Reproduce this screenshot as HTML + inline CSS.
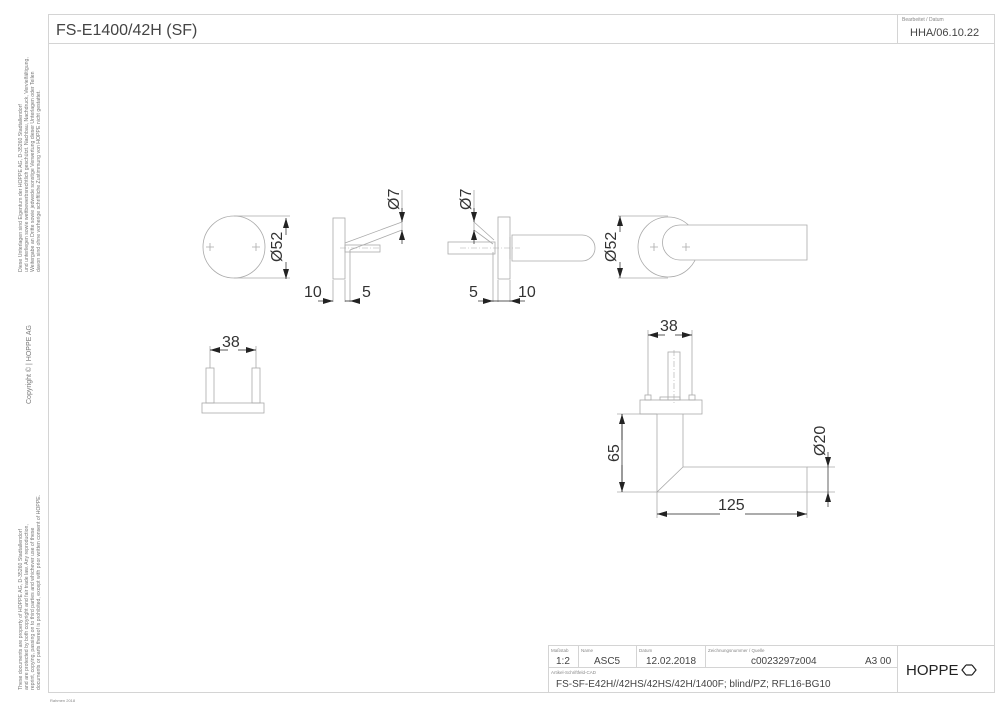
<!DOCTYPE html>
<html><head><meta charset="utf-8"><style>
body{margin:0;background:#fff;}
svg{display:block;font-family:"Liberation Sans",sans-serif;}
</style></head><body>
<svg width="1000" height="707" viewBox="0 0 1000 707" xmlns="http://www.w3.org/2000/svg">
<defs>
<marker id="a" viewBox="0 0 10 6" refX="10" refY="3" markerWidth="10" markerHeight="6" orient="auto-start-reverse" markerUnits="userSpaceOnUse"><path d="M0,0L10,3L0,6z" fill="#222"/></marker>
</defs>
<g fill="none" stroke="#d4d4d4" stroke-width="1">
<rect x="48.5" y="14.5" width="946" height="678"/>
<line x1="48" y1="43.5" x2="994" y2="43.5"/>
<line x1="897.5" y1="14" x2="897.5" y2="43"/>
<rect x="548.5" y="645.5" width="446" height="47"/>
<line x1="548" y1="667.5" x2="897" y2="667.5"/>
<line x1="897.5" y1="645" x2="897.5" y2="692"/>
<line x1="578.5" y1="645" x2="578.5" y2="667"/>
<line x1="636.5" y1="645" x2="636.5" y2="667"/>
<line x1="705.5" y1="645" x2="705.5" y2="667"/>
</g>
<g fill="#444">
<text x="56" y="35" font-size="16">FS-E1400/42H (SF)</text>
<text x="902" y="21" font-size="5" fill="#888">Bearbeitet / Datum</text>
<text x="910" y="36" font-size="11">HHA/06.10.22</text>
<text x="551" y="652" font-size="4.5" fill="#888">Maßstab</text>
<text x="581" y="652" font-size="4.5" fill="#888">Name</text>
<text x="639" y="652" font-size="4.5" fill="#888">Datum</text>
<text x="708" y="652" font-size="4.5" fill="#888">Zeichnungsnummer / Quelle</text>
<text x="556" y="664" font-size="10">1:2</text>
<text x="594" y="664" font-size="10">ASC5</text>
<text x="646" y="664" font-size="10">12.02.2018</text>
<text x="751" y="664" font-size="10">c0023297z004</text>
<text x="865" y="664" font-size="10">A3 00</text>
<text x="551" y="674" font-size="4.5" fill="#888">Artikel-Schriftfeld-CAD</text>
<text x="556" y="687" font-size="10">FS-SF-E42H//42HS/42HS/42H/1400F; blind/PZ; RFL16-BG10</text>
<text x="906" y="675" font-size="15" fill="#222">HOPPE</text>
<text x="50" y="702" font-size="4" fill="#888">Rahmen 2018</text>
</g>
<g fill="none" stroke="#222" stroke-width="1.2"><path d="M966,665l-4,5l4,5M972,665l4,5l-4,5M966,665h6M966,675h6"/></g>
<g font-size="5.2" fill="#777">
<text transform="translate(22,272) rotate(-90)">Diese Unterlagen sind Eigentum der  HOPPE AG, D-35260 Stadtallendorf</text>
<text transform="translate(28,272) rotate(-90)">und unterliegen  sowie wettbewerbsrechtlich geschützt. Nachbau, Nachdruck, Vervielfältigung,</text>
<text transform="translate(34,272) rotate(-90)">Weitergabe an Dritte sowie jedwede sonstige Verwertung dieser Unterlagen oder Teilen</text>
<text transform="translate(40,272) rotate(-90)">davon sind ohne vorherige schriftliche Zustimmung von HOPPE nicht gestattet.</text>
<text transform="translate(31,404) rotate(-90)" font-size="7">Copyright ©     |     HOPPE  AG</text>
<text transform="translate(22,690) rotate(-90)">These documents are property of HOPPE AG, D-35260 Stadtallendorf</text>
<text transform="translate(28,690) rotate(-90)">and are protected by both copyright and fair trade law. Any reproduction,</text>
<text transform="translate(34,690) rotate(-90)">reprint, copying, passing on to third parties and whichever use of these</text>
<text transform="translate(40,690) rotate(-90)">documents or parts thereof is prohibited, except with prior written consent of HOPPE.</text>
</g>
<g fill="none" stroke="#aaa" stroke-width="0.8">
<circle cx="234" cy="247" r="31"/>
<path d="M206,247h8M210,243v8M252,247h8M256,243v8"/>
<path d="M234,216h56M234,278h56"/>
<rect x="333" y="218" width="12" height="61"/>
<rect x="345" y="245" width="35" height="7"/>
<path d="M345,243L402,222M350,250L402,230M402,190v50"/>
<path d="M345,280v22M350,250v52M333,280v22"/>
<rect x="498" y="217" width="12" height="62"/>
<rect x="448" y="242" width="47" height="12"/>
<path d="M512,235h70a13,13 0 0 1 0,26h-70z"/>
<path d="M510,237v22"/>
<path d="M474,222L494,240M474,230L493,244M474,190v50"/>
<path d="M493,252v50M498,280v22M510,280v22"/>
<circle cx="668" cy="247" r="30"/>
<path d="M807,225h-127a17.5,17.5 0 0 0 0,35h127z" fill="#fff"/>
<path d="M650,247h8M654,243v8M682,247h8M686,243v8"/>
<path d="M668,216h-50M668,278h-50"/>
<rect x="202" y="403" width="62" height="10"/>
<rect x="206" y="368" width="8" height="35"/>
<rect x="252" y="368" width="8" height="35"/>
<path d="M210,346v22M256,346v22"/>
<rect x="668" y="352" width="12" height="48"/>
<rect x="640" y="400" width="62" height="14"/>
<rect x="645" y="395" width="6" height="5"/><rect x="689" y="395" width="6" height="5"/>
<rect x="660" y="397" width="20" height="3"/>
<path d="M657,414v78L683,467h124v25H657M683,414v53"/>
<path d="M648,330v65M692,330v65"/>
<path d="M657,492h-40M657,414h-40M807,492h28M807,467h28M657,492v26M807,492v26"/>
</g>
<g stroke="#aaa" stroke-width="0.6" stroke-dasharray="6,2,1,2" fill="none">
<path d="M340,248h40M460,248h60M674,350v54"/>
</g>
<g stroke="#222" stroke-width="0.7" fill="none" marker-end="url(#a)">
<path d="M286,235V218"/><path d="M286,262V279"/>
<path d="M402,208v14"/><path d="M402,244v-14"/>
<path d="M474,208v14"/><path d="M474,244v-14"/>
<path d="M620,232V216"/><path d="M620,262V278"/>
<path d="M318,301h15"/><path d="M360,301h-10"/>
<path d="M478,301h15"/><path d="M525,301h-15"/>
<path d="M228,350h-18"/><path d="M238,350h18"/>
<path d="M665,335h-17"/><path d="M675,335h17"/>
<path d="M622,440v-26"/><path d="M622,465v27"/>
<path d="M720,514h-63"/><path d="M745,514h62"/>
<path d="M828,452v15"/><path d="M828,507v-15"/>
</g>
<g stroke="#222" stroke-width="0.7"><path d="M345,301h5M493,301h17M622,414v78M828,467v25"/></g>
<g fill="#333" font-size="16">
<text x="304" y="297">10</text><text x="362" y="297">5</text>
<text x="469" y="297">5</text><text x="518" y="297">10</text>
<text x="222" y="347">38</text>
<text x="660" y="331">38</text>
<text x="718" y="510">125</text>
<text transform="translate(619,462) rotate(-90)">65</text>
<text transform="translate(282,262) rotate(-90)">Ø52</text>
<text transform="translate(616,262) rotate(-90)">Ø52</text>
<text transform="translate(399,210) rotate(-90)">Ø7</text>
<text transform="translate(471,210) rotate(-90)">Ø7</text>
<text transform="translate(825,456) rotate(-90)">Ø20</text>
</g>
</svg>
</body></html>
